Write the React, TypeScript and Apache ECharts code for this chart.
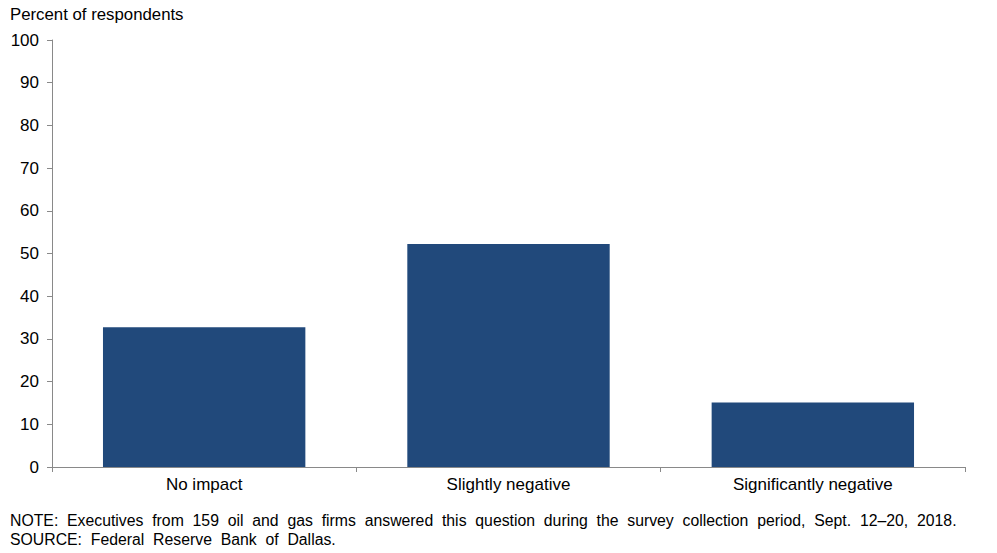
import React, { useEffect, useRef } from "react";
import * as echarts from "echarts";

const categories = ["No impact", "Slightly negative", "Significantly negative"];
const values = [32.7, 52.2, 15.1];
const yTicks = [0, 10, 20, 30, 40, 50, 60, 70, 80, 90, 100];
const yTitle = "Percent of respondents";
const noteLines = [
  "NOTE:  Executives  from  159  oil  and  gas  firms  answered  this  question  during  the  survey  collection  period,  Sept.  12–20,  2018.",
  "SOURCE:  Federal  Reserve  Bank  of  Dallas.",
];

export default function App() {
  const ref = useRef<HTMLDivElement>(null);
  useEffect(() => {
    if (!ref.current) return;
    const chart = echarts.init(ref.current, null, { renderer: "svg" });
    const font = "'Liberation Sans', Arial, sans-serif";
    chart.setOption({
      animation: false,
      backgroundColor: "#ffffff",
      textStyle: { fontFamily: font },
      grid: { left: 52, right: 32, top: 40, bottom: 86, containLabel: false },
      xAxis: {
        type: "category",
        data: categories,
        axisLine: { lineStyle: { color: "#898989", width: 1 } },
        axisTick: { show: true, length: 5, alignWithLabel: false, lineStyle: { color: "#898989" } },
        axisLabel: { color: "#000", fontSize: 17, margin: 9, fontFamily: font },
        splitLine: { show: false },
      },
      yAxis: {
        type: "value",
        min: yTicks[0],
        max: yTicks[yTicks.length - 1],
        interval: 10,
        axisLine: { show: true, lineStyle: { color: "#898989", width: 1 } },
        axisTick: { show: true, length: 5, lineStyle: { color: "#898989" } },
        axisLabel: { color: "#000", fontSize: 17, margin: 13, fontFamily: font },
        splitLine: { show: false },
      },
      series: [
        {
          type: "bar",
          data: values,
          barCategoryGap: "33.5%",
          itemStyle: { color: "#21497B" },
        },
      ],
      graphic: [
        {
          type: "text",
          left: 10,
          top: 6,
          style: { text: yTitle, fontSize: 16.8, fill: "#000", fontFamily: font },
        },
        {
          type: "text",
          left: 10,
          top: 512,
          style: { text: noteLines[0], fontSize: 15.8, fill: "#000", fontFamily: font },
        },
        {
          type: "text",
          left: 10,
          top: 531,
          style: { text: noteLines[1], fontSize: 15.8, fill: "#000", fontFamily: font },
        },
      ],
    });
    return () => chart.dispose();
  }, []);
  return (
    <div
      ref={ref}
      style={{ position: "fixed", left: 0, top: 0, width: 997, height: 553 }}
    />
  );
}
